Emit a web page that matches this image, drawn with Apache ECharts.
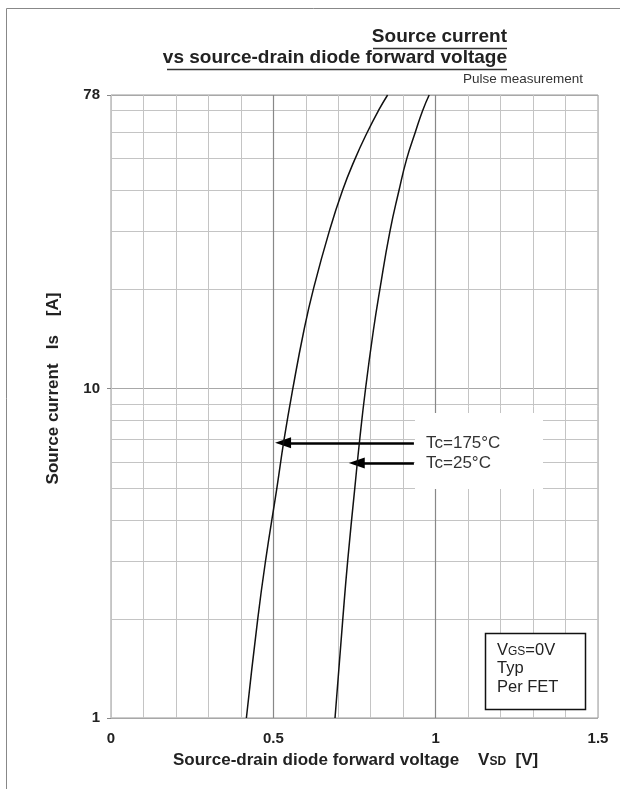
<!DOCTYPE html>
<html><head><meta charset="utf-8">
<script src="https://cdn.jsdelivr.net/npm/echarts@6/dist/echarts.min.js"></script>
<style>html,body{margin:0;padding:0;background:#fff}#c{width:620px;height:789px}</style>
</head><body><div id="c"></div>
<script>
// ---- data ----
const curve175I = [1, 2, 3, 5, 7, 10, 15, 20, 30, 40, 50, 60, 70, 78];
const curve175V = [0.417, 0.452, 0.476, 0.511, 0.533, 0.560, 0.594, 0.623, 0.672, 0.713, 0.752, 0.789, 0.824, 0.852];
const curve25I = [1, 2, 3, 5, 7, 10, 15, 20, 30, 40, 50, 60, 70, 78];
const curve25V = [0.690, 0.714, 0.729, 0.751, 0.766, 0.784, 0.808, 0.828, 0.859, 0.887, 0.911, 0.937, 0.960, 0.980];
const xTickLabels = [0, 0.5, 1, 1.5];
const yTickLabels = [1, 10, 78];
const yMinorGrid = [2, 3, 4, 5, 6, 7, 8, 9, 20, 30, 40, 50, 60, 70];
const xMajorGrid = [0.5, 1.0];
const arrow175 = [[0.933, 6.85], [0.530, 6.85]];
const arrow25 = [[0.933, 5.95], [0.757, 5.95]];
const seriesNames = ['Tc=175°C', 'Tc=25°C'];

const FONT = '"Liberation Sans", Arial, sans-serif';
const zip = (a, b) => a.map((v, i) => [v, b[i]]);
const near = (v, arr) => arr.some(t => Math.abs(v - t) < 1e-6 * Math.max(1, Math.abs(t)));

const chart = echarts.init(document.getElementById('c'), null, {renderer: 'canvas'});

const option = {
  animation: false,
  backgroundColor: '#fff',
  grid: {left: 111, top: 95, width: 487, height: 623, show: true, borderColor: '#999', borderWidth: 1, backgroundColor: 'transparent'},
  xAxis: {
    type: 'value', min: 0, max: 1.5, interval: 0.1,
    axisLine: {show: false},
    axisTick: {show: false},
    splitLine: {show: true, lineStyle: {color: '#c4c4c4', width: 1}},
    axisLabel: {
      margin: 13, color: '#222', fontFamily: FONT, fontWeight: 'bold', fontSize: 15,
      showMinLabel: true, showMaxLabel: true,
      formatter: v => near(v, xTickLabels) ? String(Math.round(v * 10) / 10) : ''
    }
  },
  yAxis: {
    type: 'log', logBase: 10, min: 1, max: 78,
    axisLine: {show: false},
    axisTick: {show: true, length: 4, lineStyle: {color: '#888'}},
    splitLine: {show: true, lineStyle: {color: '#a8a8a8', width: 1}},
    axisLabel: {
      margin: 11, color: '#222', fontFamily: FONT, fontWeight: 'bold', fontSize: 15,
      showMinLabel: true, showMaxLabel: true,
      formatter: v => { const r = Math.round(v); return near(r, yTickLabels) ? String(r) : ''; }
    }
  },
  series: [
    {
      type: 'line', name: 'grid', data: [], silent: true, z: 1,
      markLine: {
        silent: true, symbol: 'none', animation: false,
        label: {show: false},
        lineStyle: {color: '#c4c4c4', width: 1, type: 'solid'},
        data: yMinorGrid.map(v => ({yAxis: v})).concat(
          xMajorGrid.map(v => ({xAxis: v, lineStyle: {color: '#888', width: 1.2, type: 'solid'}})))
      }
    },
    {
      type: 'line', name: seriesNames[0], data: zip(curve175V, curve175I), smooth: true,
      symbol: 'none', lineStyle: {color: '#111', width: 1.5}, z: 150
    },
    {
      type: 'line', name: seriesNames[1], data: zip(curve25V, curve25I), smooth: true,
      symbol: 'none', lineStyle: {color: '#111', width: 1.5}, z: 150
    },
    {
      type: 'line', name: 'arrows', data: [], z: 200,
      markLine: {
        silent: true, animation: false, label: {show: false},
        symbol: ['none', 'triangle'], symbolSize: [11, 16],
        lineStyle: {color: '#000', width: 2.5, type: 'solid'},
        data: [
          [{coord: arrow175[0]}, {coord: arrow175[1]}],
          [{coord: arrow25[0]}, {coord: arrow25[1]}]
        ]
      }
    }
  ],
  graphic: [
    // outer frame
    {type: 'polyline', z: 1, shape: {points: [[6.5, 789], [6.5, 8.5], [620, 8.5]]}, style: {stroke: '#888', lineWidth: 1, fill: null}},
    // title
    {type: 'text', z: 300, style: {x: 507, y: 37, text: 'Source current', font: 'bold 19px ' + FONT, fill: '#222', align: 'right', verticalAlign: 'middle'}},
    {type: 'line', z: 300, shape: {x1: 373, y1: 48.5, x2: 507, y2: 48.5}, style: {stroke: '#333', lineWidth: 1.4}},
    {type: 'text', z: 300, style: {x: 507, y: 58, text: 'vs source-drain diode forward voltage', font: 'bold 19px ' + FONT, fill: '#222', align: 'right', verticalAlign: 'middle'}},
    {type: 'line', z: 300, shape: {x1: 167, y1: 69.5, x2: 507, y2: 69.5}, style: {stroke: '#333', lineWidth: 1.4}},
    {type: 'text', z: 300, style: {x: 583, y: 79, text: 'Pulse measurement', font: '13.5px ' + FONT, fill: '#333', align: 'right', verticalAlign: 'middle'}},
    // white box behind the Tc labels
    {type: 'rect', z: 100, shape: {x: 415, y: 413, width: 128, height: 76}, style: {fill: '#fff'}},
    {type: 'text', z: 300, style: {x: 426, y: 443, text: seriesNames[0], font: '17px ' + FONT, fill: '#333', verticalAlign: 'middle'}},
    {type: 'text', z: 300, style: {x: 426, y: 463, text: seriesNames[1], font: '17px ' + FONT, fill: '#333', verticalAlign: 'middle'}},
    // VGS box
    {type: 'rect', z: 300, shape: {x: 485.5, y: 633.5, width: 100, height: 76}, style: {fill: '#fff', stroke: '#111', lineWidth: 1.5}},
    {type: 'text', z: 301, style: {x: 497, y: 650, verticalAlign: 'middle',
      text: '{a|V}{s|GS}{a|=0V}', rich: {a: {font: '16.5px ' + FONT, fill: '#222'}, s: {font: '12px ' + FONT, fill: '#222', padding: [3, 0, 0, 0]}}}},
    {type: 'text', z: 301, style: {x: 497, y: 668, text: 'Typ', font: '16.5px ' + FONT, fill: '#222', verticalAlign: 'middle'}},
    {type: 'text', z: 301, style: {x: 497, y: 687, text: 'Per FET', font: '16.5px ' + FONT, fill: '#222', verticalAlign: 'middle'}},
    // x axis name
    {type: 'text', z: 300, style: {x: 173, y: 760, verticalAlign: 'middle',
      text: '{a|Source-drain diode forward voltage    V}{s|SD}{a|  [V]}',
      rich: {a: {font: 'bold 17px ' + FONT, fill: '#222'}, s: {font: 'bold 12px ' + FONT, fill: '#222', padding: [4, 0, 0, 0]}}}},
    // y axis name
    {type: 'text', z: 300, x: 53, y: 388.5, rotation: Math.PI / 2, style: {x: 0, y: 0, align: 'center', verticalAlign: 'middle',
      text: 'Source current   Is    [A]', font: 'bold 17px ' + FONT, fill: '#222'}}
  ]
};
chart.setOption(option);
</script></body></html>
